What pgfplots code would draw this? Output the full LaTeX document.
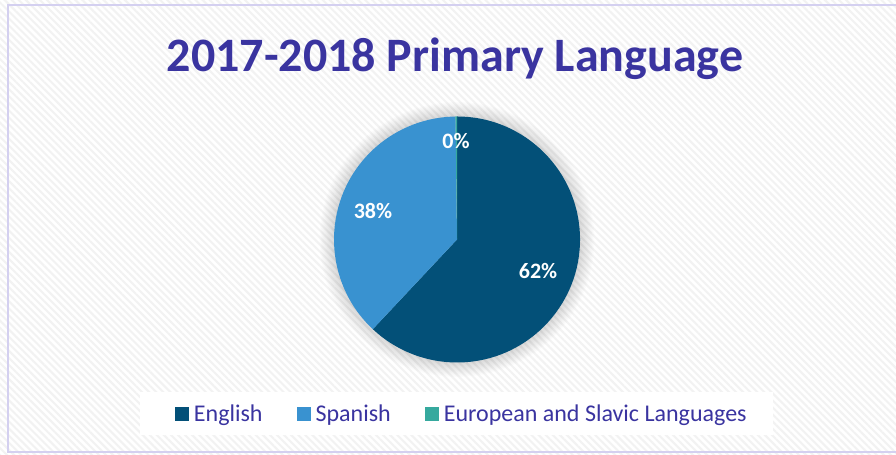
\documentclass[border=0pt]{standalone}
\usepackage{fontspec}
\setmainfont{Carlito}
\usepackage{pgfplots}
\pgfplotsset{compat=1.18}
\usetikzlibrary{patterns.meta}

\definecolor{titlecol}{RGB}{58,52,160}
\definecolor{english}{RGB}{3,80,120}
\definecolor{spanish}{RGB}{57,146,208}
\definecolor{euro}{RGB}{54,169,158}
\definecolor{framecol}{RGB}{212,208,240}

\begin{document}
\begin{tikzpicture}[x=1bp,y=1bp]
\useasboundingbox (0,0) rectangle (896,455);
% background, frame, glow, legend panel
\fill[white] (0,0) rectangle (896,455);
\fill[pattern={Lines[angle=-45,distance=5bp,line width=2bp]}, pattern color=black!5] (0,0) rectangle (896,455);
\draw[framecol, line width=1.5bp] (8,3) rectangle (920,450);
\foreach \i in {1,...,12} \fill[black, opacity=0.013] (457,215.5) circle ({123+1.2*\i});
\fill[white] (140,20) rectangle (773,63);

\begin{axis}[
  at={(0,0)}, anchor=south west, scale only axis,
  width=896bp, height=455bp,
  xmin=0, xmax=896, ymin=0, ymax=455,
  hide axis, clip=false,
  legend columns=3, area legend,
  legend image code/.code={\fill[#1] (0bp,-7bp) rectangle (14bp,7bp);},
  legend style={at={(axis description cs:0.1953,0.0901)}, anchor=west,
    draw=none, fill=none, inner sep=0pt, outer sep=0pt,
    font=\fontsize{24bp}{27bp}\selectfont, text=titlecol,
    column sep=5bp, /tikz/every even column/.append style={column sep=34bp},
    nodes={inner sep=0pt}},
]
% shares: English 62%, Spanish 37.8%, European and Slavic 0.2%  (1% = 3.6 deg, clockwise from top)
\addplot[fill=english, draw=none] coordinates {(457,215.5) (457,338.5)}
  arc[start angle=90, end angle=-133.2, radius=123bp] -- cycle;
\addlegendentry{English}
\addplot[fill=spanish, draw=none] coordinates {(457,215.5) (372.8,125.8)}
  arc[start angle=-133.2, end angle=-269.28, radius=123bp] -- cycle;
\addlegendentry{Spanish}
\addplot[fill=euro, draw=none] coordinates {(457,215.5) (455.45,338.49)}
  arc[start angle=90.72, end angle=90, radius=123bp] -- cycle;
\addlegendentry{European and Slavic Languages}

\node[text=white, font=\fontsize{22bp}{24bp}\selectfont\bfseries] at (axis cs:538,184) {62\%};
\node[text=white, font=\fontsize{22bp}{24bp}\selectfont\bfseries] at (axis cs:373,244) {38\%};
\node[text=white, font=\fontsize{22bp}{24bp}\selectfont\bfseries] at (axis cs:456,314) {0\%};
\end{axis}

\node[anchor=base, text=titlecol, font=\fontsize{48bp}{50bp}\selectfont\bfseries] at (455,383) {2017-2018 Primary Language};
\end{tikzpicture}
\end{document}
